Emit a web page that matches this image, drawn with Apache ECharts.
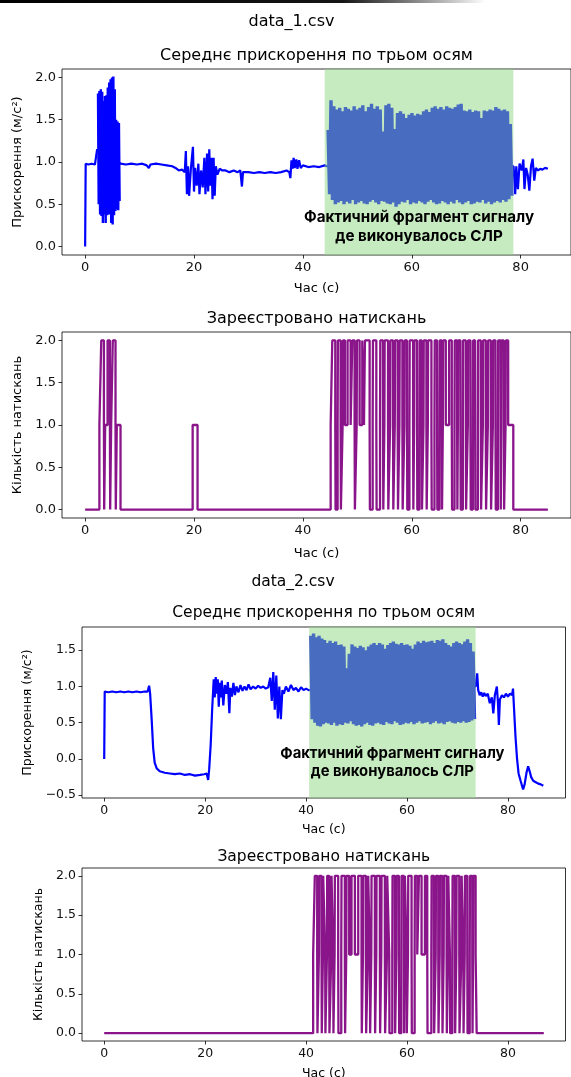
<!DOCTYPE html>
<html>
<head>
<meta charset="utf-8">
<script src="https://cdn.jsdelivr.net/npm/echarts@6/dist/echarts.min.js"></script>
<style>
  html, body { margin: 0; padding: 0; background: #fff; }
  #chart { width: 571px; height: 1077px; }
</style>
</head>
<body>
<div id="chart"></div>
<script>
// ---- data_1.csv: mean acceleration, slow parts [t, value]
const acc1Pts = [
  [0, 0], [0.1, 0.98], [0.6, 0.97], [1.2, 0.98], [1.8, 0.97], [2.1, 0.98], [2.2, 1.15],
  [6.5, 0.98], [7.5, 0.97], [8.5, 0.98], [9.5, 0.97], [10.5, 0.98], [11.3, 0.96], [11.7, 0.93],
  [12.0, 0.97], [13.0, 0.98], [14.0, 0.97], [15.0, 0.96], [16.0, 0.95], [16.6, 0.93], [17.2, 0.9],
  [17.8, 0.91], [18.3, 0.88], [18.5, 1.13], [18.7, 0.62], [18.9, 0.95], [19.1, 0.6], [19.4, 0.9],
  [19.8, 1.18], [20.0, 0.65], [20.2, 0.93], [20.5, 0.72], [20.8, 0.98], [21.0, 0.62], [21.3, 0.9],
  [21.6, 0.7], [21.9, 1.05], [22.1, 0.62], [22.4, 1.1], [22.6, 0.65], [22.8, 1.15], [23.0, 0.72],
  [23.2, 1.05], [23.4, 0.56], [23.6, 1.05], [23.8, 0.6], [24.0, 0.95], [24.3, 0.85], [24.7, 0.92],
  [25.2, 0.9], [25.8, 0.9], [26.5, 0.88], [27.3, 0.9], [28.0, 0.88], [28.5, 0.9], [28.8, 0.71],
  [29.0, 0.88], [30.0, 0.88], [31.0, 0.87], [32.0, 0.88], [33.0, 0.87], [34.0, 0.88], [35.0, 0.87],
  [36.0, 0.88], [37.0, 0.9], [37.5, 0.88], [37.7, 0.81], [37.9, 1.02], [38.1, 0.92], [38.3, 1.05],
  [38.5, 0.93], [38.8, 1.03], [39.0, 0.92], [39.3, 1.02], [39.6, 0.93], [40.0, 0.96], [41.0, 0.94],
  [42.0, 0.95], [43.0, 0.94], [44.0, 0.96], [44.4, 0.95],
  [78.7, 0.95], [79.0, 0.62], [79.2, 0.95], [79.5, 0.68], [79.8, 0.98], [80.2, 0.9], [80.5, 1.03],
  [80.7, 0.68], [81.0, 0.93], [81.3, 0.85], [81.6, 0.66], [81.9, 0.95], [82.2, 1.04], [82.5, 0.78],
  [82.8, 0.93], [83.2, 0.9], [83.6, 0.92], [84.0, 0.91], [84.5, 0.93], [85.0, 0.92]
];
// dense shaking: time span, peak values, trough values
const acc1BurstSpan = [2.3, 6.4];
const acc1BurstHi = [1.81, 1.84, 1.86, 1.83, 1.72, 1.78, 1.79, 1.88, 1.94, 1.98, 2.0, 2.01, 1.86, 1.5, 1.48, 1.46];
const acc1BurstLo = [0.5, 0.38, 0.36, 0.28, 0.38, 0.28, 0.37, 0.38, 0.38, 0.28, 0.26, 0.37, 0.42, 0.44, 0.43, 0.54];
const acc1CprSpan = [44.5, 78.5];
const acc1CprHi = [
  1.38, 1.73, 1.66, 1.62, 1.64, 1.6, 1.65, 1.63, 1.61, 1.66, 1.62, 1.64, 1.67, 1.6, 1.65, 1.69,
  1.63, 1.66, 1.62, 1.36, 1.67, 1.69, 1.64, 1.39, 1.58, 1.6, 1.57, 1.52, 1.56, 1.58, 1.55, 1.57,
  1.56, 1.6, 1.62, 1.59, 1.64, 1.66, 1.63, 1.65, 1.62, 1.66, 1.64, 1.63, 1.65, 1.68, 1.69, 1.61,
  1.6, 1.62, 1.59, 1.61, 1.6, 1.52, 1.61, 1.6, 1.62, 1.61, 1.65, 1.63, 1.61, 1.62, 1.6, 1.45
];
const acc1CprLo = [
  0.62, 0.55, 0.5, 0.52, 0.54, 0.5, 0.53, 0.51, 0.55, 0.5, 0.52, 0.54, 0.51, 0.5, 0.53, 0.55,
  0.52, 0.5, 0.54, 0.53, 0.51, 0.5, 0.52, 0.47, 0.5, 0.53, 0.52, 0.55, 0.5, 0.52, 0.51, 0.54,
  0.52, 0.5, 0.53, 0.55, 0.52, 0.5, 0.51, 0.54, 0.52, 0.5, 0.53, 0.51, 0.55, 0.52, 0.5, 0.52,
  0.54, 0.5, 0.51, 0.53, 0.52, 0.55, 0.51, 0.53, 0.5, 0.52, 0.54, 0.52, 0.55, 0.53, 0.56, 0.6
];
const acc1Span = [44.0, 78.66];

// ---- data_1.csv: registered presses, [t, level from t on]
const press1Steps = [
  [0, 0], [2.62, 1], [2.96, 2], [3.45, 1], [3.5, 0], [3.68, 1], [4.12, 2], [4.55, 1], [4.6, 0], [4.78, 1],
  [5.08, 2], [5.58, 1], [5.63, 0], [5.82, 1], [6.5, 0], [19.75, 1], [20.65, 0], [45.1, 1],
  [45.4, 2], [45.95, 1], [46.0, 0], [46.38, 1], [46.43, 2], [46.93, 1], [46.98, 0], [47.3, 1],
  [47.35, 2], [47.72, 1], [48.21, 2], [48.77, 1],
  [49.08, 2], [49.5, 1], [49.55, 0], [49.88, 1], [49.93, 2], [50.42, 1],
  [50.91, 2], [51.22, 1],
  [51.4, 2], [52.26, 1], [52.31, 0], [52.82, 1], [52.87, 2], [53.49, 1], [53.54, 0], [54.17, 1],
  [54.22, 2], [54.72, 1], [54.77, 0], [54.97, 1], [55.02, 2], [55.64, 1], [55.69, 0], [56.02, 1],
  [56.07, 2], [56.56, 1], [56.61, 0], [56.88, 1], [56.93, 2], [57.42, 1], [57.47, 0], [57.73, 1],
  [57.78, 2], [58.28, 1], [58.33, 0], [58.65, 1], [58.7, 2], [59.13, 1], [59.18, 0], [59.57, 1],
  [59.62, 2], [60.24, 1], [60.29, 0], [60.43, 1], [60.48, 2], [60.97, 1], [61.02, 0], [61.41, 1],
  [61.46, 2], [61.83, 1], [61.88, 0], [62.15, 1], [62.2, 2], [62.69, 1], [62.74, 0], [62.95, 1],
  [63.0, 2], [63.61, 1], [63.66, 0], [64.17, 1], [64.22, 2], [64.65, 1], [64.7, 0], [65.09, 1],
  [65.14, 2], [65.51, 1], [65.56, 0], [65.71, 1], [65.76, 2], [66.25, 1],
  [66.86, 2], [67.35, 1], [67.4, 0], [67.85, 1], [67.9, 2], [68.33, 1], [68.38, 0], [68.47, 1],
  [68.52, 2], [68.94, 1], [68.99, 0], [69.38, 1], [69.43, 2], [69.93, 1], [69.98, 0], [70.3, 1],
  [70.35, 2], [70.78, 1], [70.83, 0], [71.22, 1], [71.27, 2], [71.64, 1], [71.69, 0], [72.14, 1],
  [72.19, 2], [72.68, 1], [72.73, 0], [73.06, 1], [73.11, 2], [73.6, 1], [73.65, 0], [73.98, 1],
  [74.03, 2], [74.52, 1], [74.57, 0], [74.9, 1], [74.95, 2], [75.38, 1], [75.43, 0], [75.82, 1],
  [75.87, 2], [76.3, 1], [76.35, 0], [76.44, 1], [76.49, 2], [76.91, 1], [76.96, 0], [77.23, 1],
  [77.28, 2], [77.71, 1], [78.65, 0], [85.0, 0]
];

// ---- data_2.csv: mean acceleration, slow parts [t, value]
const acc2Pts = [
  [0, 0], [0.1, 0.93], [0.8, 0.92], [1.6, 0.93], [2.4, 0.92], [3.2, 0.93], [4.0, 0.92], [4.8, 0.93],
  [5.6, 0.92], [6.4, 0.93], [7.2, 0.92], [8.0, 0.93], [8.6, 0.93], [8.9, 1.01], [9.1, 0.9], [9.4, 0.55],
  [9.7, 0.15], [10.0, -0.05], [10.4, -0.13], [11.0, -0.17], [12.0, -0.19], [13.0, -0.2], [14.0, -0.21],
  [15.0, -0.2], [16.0, -0.22], [17.0, -0.21], [18.0, -0.23], [19.0, -0.22], [19.8, -0.21], [20.3, -0.2],
  [20.6, -0.29], [20.8, -0.14], [21.1, 0.2], [21.4, 0.7], [21.7, 1.1], [21.9, 0.85], [22.1, 1.13],
  [22.3, 0.9], [22.5, 1.1], [22.7, 0.72], [22.9, 1.05], [23.1, 0.85], [23.3, 1.08], [23.6, 0.74],
  [23.9, 1.02], [24.2, 0.9], [24.5, 1.06], [24.8, 0.63], [25.0, 0.98], [25.3, 0.86], [25.6, 1.05],
  [25.9, 0.88], [26.2, 1.0], [26.6, 0.92], [27.0, 1.02], [27.4, 0.94], [27.8, 1.0], [28.2, 0.95],
  [28.6, 1.03], [29.0, 0.96], [29.5, 1.0], [30.0, 0.97], [30.5, 1.01], [31.0, 0.98], [31.5, 1.0],
  [32.0, 0.97], [32.5, 0.99], [32.9, 1.12], [33.2, 0.8], [33.5, 1.2], [33.8, 0.68], [34.1, 1.15],
  [34.4, 0.56], [34.7, 1.0], [35.0, 0.55], [35.3, 0.95], [35.6, 0.9], [36.0, 1.0], [36.5, 0.93],
  [37.0, 1.02], [37.5, 0.95], [38.0, 0.98], [38.5, 0.93], [39.0, 0.99], [39.5, 0.95], [40.0, 0.97],
  [40.5, 0.95],
  [73.6, 1.0], [73.9, 1.18], [74.1, 0.95], [74.4, 0.88], [74.7, 0.92], [75.0, 0.86], [75.3, 0.91],
  [75.6, 0.87], [76.0, 0.9], [76.4, 0.77], [76.8, 0.85], [77.1, 0.63], [77.4, 0.88], [77.8, 1.0],
  [78.0, 0.8], [78.2, 0.47], [78.4, 0.82], [78.8, 0.88], [79.2, 0.85], [79.6, 0.9], [80.0, 0.86],
  [80.4, 0.9], [80.8, 0.88], [81.0, 0.97], [81.2, 0.7], [81.5, 0.3], [81.8, 0.0], [82.1, -0.2],
  [82.5, -0.3], [83.0, -0.42], [83.3, -0.35], [83.7, -0.18], [84.0, -0.1], [84.3, -0.17], [84.6, -0.25],
  [85.0, -0.3], [85.5, -0.32], [86.0, -0.34], [86.5, -0.35], [87.0, -0.37]
];
const acc2CprSpan = [40.8, 73.5];
const acc2CprHi = [
  1.7, 1.73, 1.68, 1.7, 1.66, 1.64, 1.6, 1.63, 1.6, 1.62, 1.57, 1.58, 1.55, 1.25, 1.45, 1.58,
  1.55, 1.53, 1.56, 1.54, 1.5, 1.55, 1.58, 1.6, 1.57, 1.6, 1.58, 1.52, 1.57, 1.6, 1.62, 1.59,
  1.58, 1.6, 1.57, 1.58, 1.56, 1.52, 1.58, 1.62, 1.6, 1.63, 1.61, 1.62, 1.63, 1.6, 1.64, 1.63,
  1.65, 1.6, 1.57, 1.55, 1.6, 1.62, 1.6, 1.58, 1.62, 1.65, 1.6, 1.48
];
const acc2CprLo = [
  0.55, 0.5, 0.46, 0.45, 0.48, 0.5, 0.49, 0.47, 0.5, 0.46, 0.48, 0.47, 0.5, 0.49, 0.52, 0.48,
  0.46, 0.47, 0.45, 0.48, 0.5, 0.47, 0.46, 0.49, 0.5, 0.48, 0.47, 0.51, 0.49, 0.48, 0.52, 0.5,
  0.47, 0.48, 0.5, 0.49, 0.51, 0.48, 0.5, 0.52, 0.49, 0.5, 0.51, 0.48, 0.5, 0.52, 0.49, 0.5,
  0.48, 0.51, 0.52, 0.5, 0.49, 0.51, 0.5, 0.52, 0.5, 0.51, 0.53, 0.55
];
const acc2Span = [40.6, 73.6];

// ---- data_2.csv: registered presses
const press2Steps = [
  [0, 0], [41.4, 1],
  [41.73, 2], [42.2, 1], [42.25, 0], [42.54, 1], [42.59, 2], [43.06, 1], [43.11, 0], [43.34, 1],
  [43.39, 2], [43.78, 1], [43.83, 0], [44.13, 1], [44.18, 2], [44.58, 1], [44.63, 0], [44.99, 1],
  [45.04, 2], [45.37, 1], [45.42, 0], [45.65, 1], [45.7, 2], [46.36, 1], [46.41, 0], [46.97, 1],
  [47.02, 2], [47.68, 1], [47.73, 0], [47.96, 1], [48.01, 2], [48.54, 1], [49.0, 2], [49.67, 1],
  [50.33, 2], [50.99, 1], [51.04, 0], [51.27, 1], [51.32, 2], [51.85, 1], [51.9, 0], [52.26, 1],
  [52.31, 2], [52.64, 1], [52.69, 0], [52.92, 1], [52.97, 2], [53.63, 1], [53.68, 0], [53.91, 1],
  [53.96, 2], [54.62, 1], [54.67, 0], [54.9, 1], [54.95, 2], [55.61, 1], [55.66, 0], [56.03, 1],
  [56.08, 2], [56.47, 1], [56.52, 0], [57.08, 1], [57.13, 2], [57.6, 1], [57.65, 0], [57.88, 1],
  [57.93, 2], [58.39, 1], [58.44, 0], [58.87, 1], [58.92, 2], [59.38, 1], [59.43, 0], [59.53, 1],
  [59.58, 2], [59.91, 1], [59.96, 0], [60.19, 1], [60.24, 2], [60.9, 1], [60.95, 0], [61.51, 1],
  [61.56, 2], [62.03, 1], [62.36, 2], [62.88, 1],
  [63.55, 2], [64.01, 1], [64.06, 0], [64.82, 1], [64.87, 2], [65.33, 1], [65.38, 0], [65.68, 1],
  [65.73, 2], [66.19, 1], [66.24, 0], [66.47, 1], [66.52, 2], [66.98, 1], [67.03, 0], [67.26, 1],
  [67.31, 2], [67.84, 1], [67.89, 0], [68.12, 1], [68.17, 2], [68.5, 1], [68.55, 0], [68.98, 1],
  [69.03, 2], [69.49, 1], [69.54, 0], [69.77, 1], [69.82, 2], [70.35, 1], [70.4, 0], [70.77, 1],
  [70.82, 2], [71.15, 1], [71.2, 0], [71.43, 1], [71.48, 2], [71.94, 1], [71.99, 0], [72.42, 1],
  [72.47, 2], [72.93, 1], [72.98, 0], [73.08, 1], [73.13, 2], [73.59, 1], [73.8, 0], [87.1, 0]
];

const xTicks = [0, 20, 40, 60, 80];
const yTicksA1 = [0, 0.5, 1, 1.5, 2];
const yTicksA2 = [-0.5, 0, 0.5, 1, 1.5];
const yTicksP = [0, 0.5, 1, 1.5, 2];
const annText = 'Фактичний фрагмент сигналу\nде виконувалось СЛР';

const FONT = 'DejaVu Sans';

// peaks and troughs of a dense oscillation, spread over its time span
function zigzag(span, hi, lo) {
  const out = [];
  const dt = (span[1] - span[0]) / hi.length;
  hi.forEach((h, i) => {
    out.push([span[0] + dt * (i + 0.25), h]);
    out.push([span[0] + dt * (i + 0.75), lo[i]]);
  });
  return out;
}
const fmt1 = v => v.toFixed(1).replace('-', '\u2212');

function xAx(gi, min, max, fs, gap, named) {
  return {
    type: 'value', gridIndex: gi, min, max,
    name: named ? 'Час (с)' : '', nameLocation: 'middle', nameGap: gap,
    nameTextStyle: { fontFamily: FONT, fontSize: fs, color: '#000' },
    axisLine: { show: false, onZero: false },
    axisTick: { show: true, length: 3.5, customValues: xTicks, lineStyle: { color: '#000', width: 0.8 } },
    axisLabel: { customValues: xTicks, margin: 6, fontFamily: FONT, fontSize: fs, color: '#111', formatter: v => String(v) },
    splitLine: { show: false }
  };
}
function yAx(gi, min, max, ticks, name, fs, gap) {
  return {
    type: 'value', gridIndex: gi, min, max,
    name, nameLocation: 'middle', nameGap: gap,
    nameTextStyle: { fontFamily: FONT, fontSize: fs, color: '#000' },
    axisLine: { show: false, onZero: false },
    axisTick: { show: true, length: 3.5, customValues: ticks, lineStyle: { color: '#000', width: 0.8 } },
    axisLabel: { customValues: ticks, margin: 6, fontFamily: FONT, fontSize: fs, color: '#111', formatter: fmt1 },
    splitLine: { show: false }
  };
}
function grid(left, top, width, height) {
  return { left, top, width, height, show: true, borderColor: '#000', borderWidth: 0.8 };
}
function accLine(idx, data, width) {
  return {
    type: 'line', xAxisIndex: idx, yAxisIndex: idx, data, z: 2,
    showSymbol: false, symbol: 'none', clip: true,
    lineStyle: { color: '#0000ff', width, join: 'bevel' }
  };
}
// green span laid over the signal, with its caption
function spanArea(idx, span, dist, lh, fs) {
  return {
    type: 'custom', xAxisIndex: idx, yAxisIndex: idx, z: 5, silent: true,
    data: [span],
    renderItem: function (params, api) {
      const cs = params.coordSys;
      const x0 = api.coord([api.value(0), 0])[0];
      const x1 = api.coord([api.value(1), 0])[0];
      return {
        type: 'group',
        children: [
          { type: 'rect', shape: { x: x0, y: cs.y, width: x1 - x0, height: cs.height },
            style: { fill: 'rgba(144,216,130,0.5)' } },
          { type: 'text', x: (x0 + x1) / 2, y: cs.y + cs.height - dist, z2: 10,
            style: { text: annText, fill: '#000', font: 'bold ' + fs + 'px Inter',
              lineHeight: lh, textAlign: 'center', textVerticalAlign: 'bottom' } }
        ]
      };
    }
  };
}
function pressLine(idx, data) {
  return {
    type: 'line', xAxisIndex: idx, yAxisIndex: idx, data, step: 'end', z: 2,
    showSymbol: false, symbol: 'none', clip: true,
    lineStyle: { color: '#800080', width: 2.3, opacity: 0.92 }
  };
}
function txt(text, x, y, size) {
  return { type: 'text', x, y, style: { text, fill: '#000', font: size + 'px "' + FONT + '"', textAlign: 'center', textVerticalAlign: 'middle' } };
}

const chart = echarts.init(document.getElementById('chart'), null, { renderer: 'canvas' });
chart.setOption({
  animation: false,
  backgroundColor: '#fff',
  grid: [
    grid(62, 69, 509, 186),
    grid(62, 332, 509, 186),
    grid(82, 627, 483.5, 171),
    grid(82, 868, 483.5, 173)
  ],
  xAxis: [
    xAx(0, -4.25, 89.25, 13, 27, true),
    xAx(1, -4.25, 89.25, 13, 29, true),
    xAx(2, -4.4, 91.4, 12.5, 25, true),
    xAx(3, -4.4, 91.4, 12.5, 27, false)
  ],
  yAxis: [
    yAx(0, -0.1, 2.1, yTicksA1, 'Прискорення (м/с²)', 13, 37),
    yAx(1, -0.1, 2.1, yTicksP, 'Кількість натискань', 13, 37),
    yAx(2, -0.538, 1.82, yTicksA2, 'Прискорення (м/с²)', 12.5, 46),
    yAx(3, -0.1, 2.1, yTicksP, 'Кількість натискань', 12.5, 35)
  ],
  series: [
    accLine(0, acc1Pts, 2.2),
    accLine(0, zigzag(acc1BurstSpan, acc1BurstHi, acc1BurstLo), 2.4),
    accLine(0, zigzag(acc1CprSpan, acc1CprHi, acc1CprLo), 3.4),
    spanArea(0, acc1Span, 8.5, 19.5, 15.2),
    pressLine(1, press1Steps),
    accLine(2, acc2Pts, 2.2),
    accLine(2, zigzag(acc2CprSpan, acc2CprHi, acc2CprLo), 3.4),
    spanArea(2, acc2Span, 17, 18, 14.8),
    pressLine(3, press2Steps)
  ],
  graphic: [
    {
      type: 'rect', shape: { x: 0, y: 0, width: 571, height: 3 },
      style: { fill: new echarts.graphic.LinearGradient(0, 0, 1, 0, [
        { offset: 0, color: '#000' }, { offset: 0.6, color: '#151515' }, { offset: 0.85, color: 'rgba(0,0,0,0)' }
      ]) }
    },
    txt('data_1.csv', 291.5, 21.7, 16),
    txt('Середнє прискорення по трьом осям', 316.5, 56, 16),
    txt('Зареєстровано натискань', 316.5, 319, 16),
    txt('data_2.csv', 293, 581.7, 15.5),
    txt('Середнє прискорення по трьом осям', 323.8, 613, 15.5),
    txt('Зареєстровано натискань', 323.8, 856.7, 15.5),
    // x-axis name of the last panel, cut by the window bottom as in the original
    txt('Час (с)', 323.8, 1074, 12.5)
  ]
});
window.addEventListener('resize', function () {
  chart.resize();
});
</script>
</body>
</html>
